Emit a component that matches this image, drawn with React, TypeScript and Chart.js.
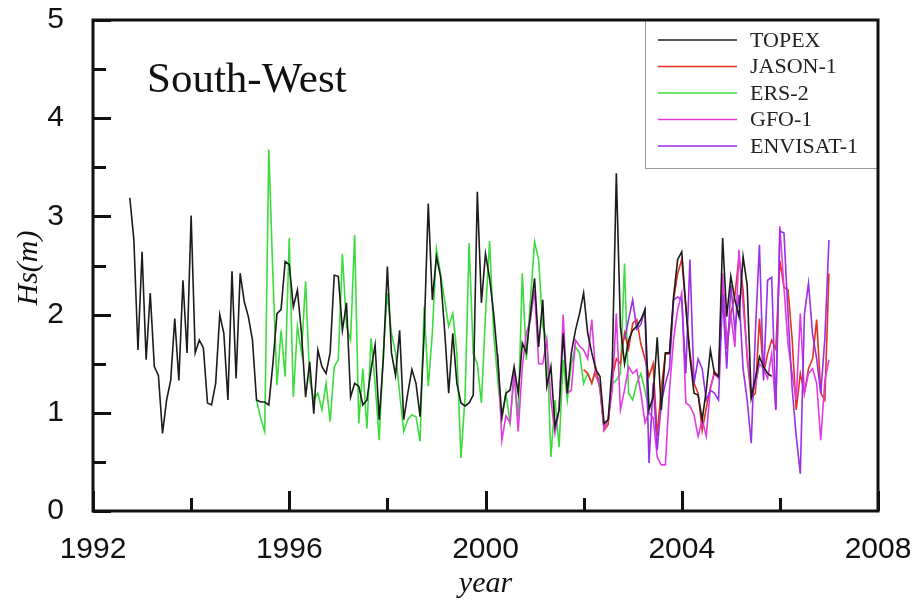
import React, { useEffect, useRef } from "react";
import { Chart, registerables } from "chart.js";

Chart.register(...registerables);

// ---- axis definitions ----
const X_MIN = 1992;
const X_MAX = 2008;
const Y_MIN = 0;
const Y_MAX = 5;
const X_TICKS = [1992, 1994, 1996, 1998, 2000, 2002, 2004, 2006, 2008];
const X_LABELS = ["1992", "1996", "2000", "2004", "2008"];
const Y_TICKS = [0, 0.5, 1, 1.5, 2, 2.5, 3, 3.5, 4, 4.5, 5];
const Y_LABELS = ["0", "1", "2", "3", "4", "5"];

const TITLE = "South-West";
const X_TITLE = "year";
const Y_TITLE = "Hs(m)";

const SERIES_NAMES = ["TOPEX", "JASON-1", "ERS-2", "GFO-1", "ENVISAT-1"];
const SERIES_COLORS = ["#1c1c1c", "#e8301c", "#3ddc3d", "#e23be2", "#9b30e8"];

// ---- monthly mean Hs (m); first value at the given decimal year ----
const TOPEX_START = 1992.75;
const TOPEX = [
  3.19, 2.76, 1.64, 2.64, 1.54, 2.22, 1.47, 1.38, 0.79, 1.13, 1.33, 1.96,
  1.33, 2.35, 1.61, 3.01, 1.61, 1.74, 1.66, 1.10, 1.08, 1.30, 2.00, 1.81,
  1.13, 2.44, 1.35, 2.42, 2.13, 1.98, 1.74, 1.13, 1.11, 1.11, 1.08, 1.50,
  2.01, 2.05, 2.54, 2.51, 2.08, 2.25, 1.81, 1.16, 1.52, 0.99, 1.64, 1.47,
  1.40, 1.61, 2.40, 2.39, 1.84, 2.12, 1.16, 1.30, 1.27, 1.08, 1.13, 1.44,
  1.69, 0.93, 1.54, 2.49, 1.61, 1.38, 1.84, 0.93, 1.20, 1.44, 1.30, 0.96,
  1.81, 3.13, 2.15, 2.59, 2.39, 1.84, 1.20, 1.81, 1.30, 1.10, 1.07, 1.10,
  1.18, 3.25, 2.12, 2.62, 2.37, 2.01, 1.54, 0.96, 1.20, 1.23, 1.47, 1.20,
  1.71, 1.61, 2.01, 2.37, 1.67, 2.15, 1.27, 1.47, 0.86, 1.03, 1.81, 1.20,
  1.61, 1.84, 2.01, 2.22, 1.81, 1.61, 1.44, 1.37, 0.89, 0.93, 1.47, 3.44,
  1.88, 1.50, 1.74, 1.84, 1.88, 1.95, 2.05, 1.03, 1.16, 1.77, 1.03, 1.61,
  1.61, 2.18, 2.56, 2.64, 2.08, 1.57, 1.20, 1.18, 0.93, 1.23, 1.64, 1.40,
  1.37, 2.78, 1.98, 2.39, 2.15, 1.98, 2.59, 2.30, 1.15, 1.35, 1.57, 1.47,
  1.40, 1.37,
];

const JASON_START = 2002.0;
const JASON = [
  1.44, 1.40, 1.30, 1.45, 1.25, 0.82, 0.88, 1.35, 1.55, 1.50, 1.81, 1.65,
  1.91, 1.95, 1.70, 1.55, 1.37, 1.50, 0.76, 1.25, 1.60, 1.60, 2.15, 2.42,
  2.56, 2.08, 1.61, 1.30, 1.20, 0.82, 1.05, 1.25, 1.42, 1.37, 2.32, 1.65,
  2.00, 2.20, 2.59, 2.25, 1.55, 1.15, 1.20, 1.96, 1.40, 1.60, 1.74, 1.65,
  2.55, 2.28, 2.25, 1.75, 1.03, 1.40, 1.20, 1.45, 1.55, 1.95, 1.20, 1.13,
  2.42,
];

const ERS_START = 1995.3333;
const ERS = [
  1.13, 0.95, 0.81, 3.68, 2.40, 1.28, 1.84, 1.37, 2.78, 1.16, 1.88, 1.61,
  2.34, 1.33, 1.13, 1.20, 1.03, 1.30, 0.91, 1.47, 1.54, 2.62, 1.88, 1.74,
  2.81, 0.89, 1.45, 0.84, 1.76, 1.30, 0.72, 1.61, 2.22, 1.81, 1.61, 1.20,
  0.81, 0.93, 0.98, 0.96, 0.71, 2.08, 1.27, 1.81, 2.67, 2.42, 2.15, 1.88,
  2.01, 1.61, 0.54, 1.16, 2.73, 1.60, 1.50, 1.10, 2.00, 2.75, 1.81, 1.33,
  0.93, 1.20, 0.90, 1.37, 0.96, 2.42, 1.54, 2.15, 2.74, 2.56, 1.88, 1.74,
  0.55, 1.13, 0.65, 1.54, 1.13, 1.50, 1.67, 1.61, 1.30, 1.40, 1.30, 1.44,
  1.23, 0.86, 0.93, 1.30, 1.33, 1.40, 2.52, 1.20, 1.13, 1.30, 1.40, 1.23,
  1.03,
];

const GFO_START = 2000.25;
const GFO = [
  1.60, 0.72, 0.97, 0.90, 1.44, 0.81, 1.47, 1.81, 1.95,
  2.25, 1.50, 1.50, 1.74, 1.13, 0.79, 1.03, 2.00, 1.20, 1.23, 1.74, 1.68,
  1.64, 1.55, 1.95, 1.37, 1.28, 0.83, 0.93, 1.23, 2.01, 1.03, 1.23, 1.47,
  1.40, 1.44, 1.20, 0.90, 1.00, 0.95, 0.55, 0.47, 0.47, 1.23, 1.75, 2.05,
  2.22, 1.10, 1.07, 0.98, 0.76, 0.93, 0.76, 1.25, 1.40, 1.35, 2.42, 1.74,
  2.00, 1.67, 2.66, 2.10, 1.60, 1.20, 1.27, 1.50, 1.45, 1.35, 1.60, 1.03,
  2.90, 2.28, 1.70, 1.40, 1.13, 2.01, 1.20, 1.40, 1.45, 1.30, 0.72, 1.33,
  1.54,
];

const ENVISAT_START = 2002.8333;
const ENVISAT = [
  1.75, 1.95,
  2.15, 1.85, 1.90, 2.05, 0.49, 1.30, 0.62, 1.10, 1.30, 1.45, 2.15, 2.18,
  2.15, 1.40, 2.56, 1.30, 1.55, 1.45, 1.13, 1.23, 1.20, 1.13, 2.20, 1.45,
  2.30, 1.85, 2.20, 1.45, 1.13, 0.69, 1.81, 2.71, 1.33, 2.35, 2.38, 1.03,
  2.85, 2.83, 2.00, 1.25, 0.76, 0.38, 2.00, 2.32, 1.80, 1.55, 1.20, 1.75,
  2.76,
];

const SERIES_VALUES = [TOPEX, JASON, ERS, GFO, ENVISAT];
const SERIES_STARTS = [TOPEX_START, JASON_START, ERS_START, GFO_START, ENVISAT_START];
const DRAW_ORDER = [0, 3, 4, 2, 1];

function monthly(start: number, values: number[]) {
  return values.map((v, i) => ({ x: start + i / 12, y: v }));
}

const framePlugin = {
  id: "framePlugin",
  afterDraw(chart: any) {
    const { ctx, chartArea } = chart;
    const { left, right, top, bottom } = chartArea;
    const xs = chart.scales.x;
    const ys = chart.scales.y;
    ctx.save();
    ctx.strokeStyle = "#111";
    ctx.lineWidth = 3;
    ctx.lineCap = "butt";
    // inward ticks
    ctx.beginPath();
    Y_TICKS.forEach((v) => {
      const py = Math.round(ys.getPixelForValue(v)) + 0.5;
      const len = Number.isInteger(v) ? 18 : 13;
      ctx.moveTo(left, py);
      ctx.lineTo(left + len, py);
    });
    X_TICKS.forEach((v) => {
      const px = Math.round(xs.getPixelForValue(v)) + 0.5;
      const len = v % 4 === 0 ? 20 : 13;
      ctx.moveTo(px, bottom);
      ctx.lineTo(px, bottom - len);
    });
    ctx.stroke();

    // legend box
    const lx0 = 645;
    const ly0 = top;
    const lx1 = right;
    const ly1 = 168;
    ctx.fillStyle = "#fff";
    ctx.fillRect(lx0, ly0, lx1 - lx0, ly1 - ly0);
    ctx.strokeStyle = "#9a9a9a";
    ctx.lineWidth = 1;
    ctx.strokeRect(lx0 + 0.5, ly0 + 0.5, lx1 - lx0, ly1 - ly0);
    ctx.font = '22px "Liberation Serif"';
    ctx.textBaseline = "middle";
    ctx.textAlign = "left";
    SERIES_NAMES.forEach((name, i) => {
      const ry = 40 + i * 26.5;
      ctx.strokeStyle = SERIES_COLORS[i];
      ctx.lineWidth = 1.6;
      ctx.beginPath();
      ctx.moveTo(658, ry);
      ctx.lineTo(737, ry);
      ctx.stroke();
      ctx.fillStyle = "#222";
      ctx.fillText(name, 750, ry + 1);
    });

    // frame
    ctx.strokeStyle = "#111";
    ctx.lineWidth = 3;
    ctx.strokeRect(left, top, right - left, bottom - top);

    // title in plot
    ctx.fillStyle = "#111";
    ctx.font = '43px "Liberation Serif"';
    ctx.textBaseline = "alphabetic";
    ctx.textAlign = "left";
    ctx.fillText(TITLE, 147, 92);

    // axis titles
    ctx.font = 'italic 30px "Liberation Serif"';
    ctx.textAlign = "center";
    ctx.textBaseline = "middle";
    ctx.fillText(X_TITLE, (left + right) / 2, 584);
    ctx.save();
    ctx.translate(29, 268);
    ctx.rotate(-Math.PI / 2);
    ctx.fillText(Y_TITLE, 0, 0);
    ctx.restore();
    ctx.restore();
  },
};

export default function App() {
  const ref = useRef<HTMLCanvasElement | null>(null);
  useEffect(() => {
    if (!ref.current) return;
    const datasets = SERIES_NAMES.map((name, i) => ({
      label: name,
      data: monthly(SERIES_STARTS[i], SERIES_VALUES[i]),
      borderColor: SERIES_COLORS[i],
      backgroundColor: SERIES_COLORS[i],
      borderWidth: 1.6,
      pointRadius: 0,
      tension: 0,
      fill: false,
      order: DRAW_ORDER[i],
    }));
    const chart = new Chart(ref.current, {
      type: "line",
      data: { datasets },
      plugins: [framePlugin],
      options: {
        responsive: false,
        animation: false,
        layout: { padding: { top: 20, right: 41, left: 0, bottom: 0 } },
        plugins: {
          legend: { display: false },
          tooltip: { enabled: false },
        },
        scales: {
          x: {
            type: "linear",
            min: X_MIN,
            max: X_MAX,
            afterBuildTicks: (s: any) => {
              s.ticks = X_TICKS.map((v) => ({ value: v }));
            },
            afterFit: (s: any) => {
              s.height = 94;
              s.paddingLeft = 0;
              s.paddingRight = 0;
            },
            grid: { display: false },
            border: { display: false },
            ticks: {
              autoSkip: false,
              maxRotation: 0,
              padding: 13,
              color: "#111",
              font: { family: "Liberation Sans", size: 30 },
              callback: (v: any) => (X_LABELS.includes(String(v)) ? String(v) : ""),
            },
          },
          y: {
            type: "linear",
            min: Y_MIN,
            max: Y_MAX,
            afterBuildTicks: (s: any) => {
              s.ticks = Y_TICKS.map((v) => ({ value: v }));
            },
            afterFit: (s: any) => {
              s.width = 93;
              s.paddingTop = 0;
              s.paddingBottom = 0;
            },
            grid: { display: false },
            border: { display: false },
            ticks: {
              autoSkip: false,
              padding: 21,
              color: "#111",
              font: { family: "Liberation Sans", size: 30 },
              callback: (v: any) => (Y_LABELS.includes(String(v)) ? String(v) : ""),
            },
          },
        },
      } as any,
    });
    return () => chart.destroy();
  }, []);
  return (
    <div style={{ position: "fixed", left: 0, top: 0, width: 919, height: 605, background: "#fff" }}>
      <canvas ref={ref} width={919} height={605} style={{ display: "block" }} />
    </div>
  );
}
